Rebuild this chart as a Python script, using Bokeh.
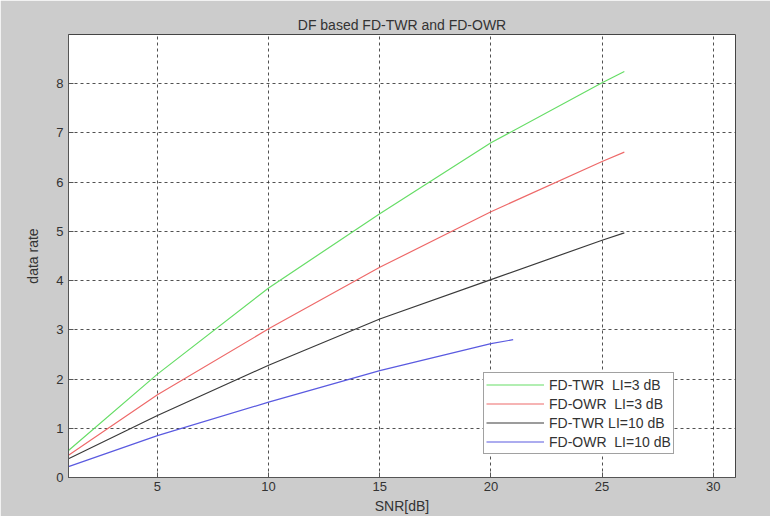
from bokeh.plotting import figure
from bokeh.models import Range1d, FixedTicker, Legend, LegendItem
from bokeh.embed import file_html
from bokeh.resources import INLINE

# Data
snr_twr3 = [1, 5, 10, 15, 20, 25, 26]
rate_twr3 = [0.55, 2.1, 3.85, 5.36, 6.8, 8.02, 8.25]

snr_owr3 = [1, 5, 10, 15, 20, 25, 26]
rate_owr3 = [0.45, 1.68, 3.02, 4.27, 5.4, 6.42, 6.61]

snr_twr10 = [1, 5, 10, 15, 20, 25, 26]
rate_twr10 = [0.38, 1.26, 2.28, 3.22, 4.02, 4.82, 4.97]

snr_owr10 = [1, 5, 10, 15, 20, 21]
rate_owr10 = [0.22, 0.85, 1.53, 2.17, 2.72, 2.8]

x_ticks = [5, 10, 15, 20, 25, 30]
y_ticks = [0, 1, 2, 3, 4, 5, 6, 7, 8]

labels = ["FD-TWR\u00a0\u00a0LI=3 dB", "FD-OWR\u00a0\u00a0LI=3 dB",
          "FD-TWR LI=10 dB", "FD-OWR\u00a0\u00a0LI=10 dB"]
colors = ["#66dd66", "#ee6a6a", "#3a3a3a", "#5a5ae0"]

FONT = "Liberation Sans"
TXT = "#333333"

p = figure(width=770, height=516, output_backend="svg", toolbar_location=None,
           x_range=Range1d(1, 31), y_range=Range1d(0, 9),
           min_border_left=68, min_border_right=35, min_border_top=34,
           min_border_bottom=39)
p.border_fill_color = "#cccccc"
p.background_fill_color = "white"
p.outline_line_color = "#444444"
p.outline_line_width = 1

p.title.text = "DF based FD-TWR and FD-OWR"
p.title.align = "center"
p.title.text_font = FONT
p.title.text_font_size = "14px"
p.title.text_font_style = "normal"
p.title.text_color = TXT
p.title.standoff = 4

xa = p.xaxis[0]
ya = p.yaxis[0]
xa.ticker = FixedTicker(ticks=x_ticks)
ya.ticker = FixedTicker(ticks=y_ticks)
for ax in (xa, ya):
    ax.major_tick_in = 5
    ax.major_tick_out = 0
    ax.minor_tick_line_color = None
    ax.axis_line_color = "#555555"
    ax.major_tick_line_color = "#555555"
    ax.major_label_text_font = FONT
    ax.major_label_text_font_size = "13px"
    ax.major_label_text_color = TXT
    ax.axis_label_text_font = FONT
    ax.axis_label_text_font_size = "14px"
    ax.axis_label_text_font_style = "normal"
    ax.axis_label_text_color = TXT
xa.axis_label = "SNR[dB]"
ya.axis_label = "data rate"
xa.major_label_standoff = 4
xa.axis_label_standoff = 4
ya.major_label_standoff = 5
ya.axis_label_standoff = 12

for g in (p.xgrid[0], p.ygrid[0]):
    g.grid_line_color = "#333333"
    g.grid_line_dash = "3 3"
    g.grid_line_alpha = 0.85
    g.grid_line_width = 1
p.xgrid[0].ticker = FixedTicker(ticks=x_ticks)
p.ygrid[0].ticker = FixedTicker(ticks=y_ticks)

series = [(snr_twr3, rate_twr3), (snr_owr3, rate_owr3),
          (snr_twr10, rate_twr10), (snr_owr10, rate_owr10)]
items = []
for (xs, ys), c, lab in zip(series, colors, labels):
    r = p.line(xs, ys, line_color=c, line_width=1.2)
    items.append(LegendItem(label=lab, renderers=[r]))

legend = Legend(items=items, location=(415, 23))
legend.label_text_font = FONT
legend.label_text_font_size = "14px"
legend.label_text_color = TXT
legend.glyph_width = 58
legend.glyph_height = 19
legend.label_height = 19
legend.label_standoff = 5
legend.padding = 2
legend.spacing = 0
legend.margin = 0
legend.border_line_color = "#444444"
legend.border_line_width = 1
legend.background_fill_color = "white"
legend.background_fill_alpha = 1
p.add_layout(legend, "center")

open("out.html", "w").write(file_html(p, INLINE))
